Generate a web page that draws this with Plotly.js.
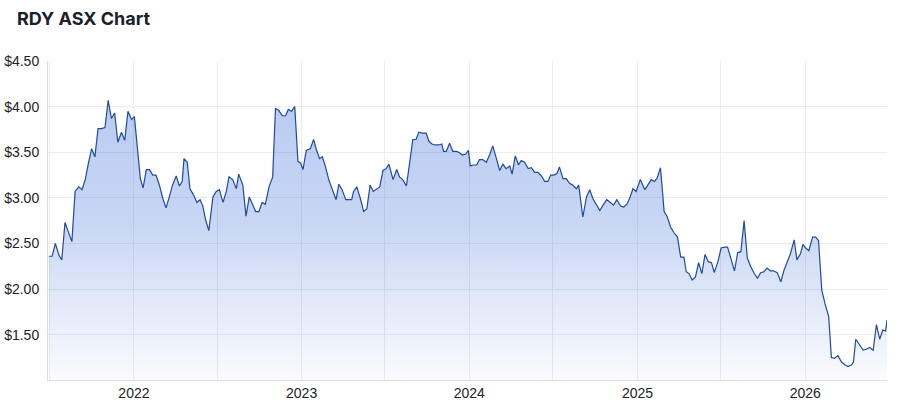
<!DOCTYPE html>
<html>
<head>
<meta charset="utf-8">
<script src="https://cdn.plot.ly/plotly-3.0.1.min.js"></script>
<style>
html, body { margin: 0; padding: 0; background: #ffffff; }
#chart { width: 898px; height: 415px; }
</style>
</head>
<body>
<div id="chart"></div>
<script>
const chartTitle = "RDY ASX Chart";

const dates = [
"2021-06-30","2021-07-07","2021-07-14","2021-07-22","2021-07-28","2021-08-04","2021-08-11","2021-08-19","2021-08-26","2021-09-03",
"2021-09-10","2021-09-17","2021-09-24","2021-10-01","2021-10-08","2021-10-15","2021-10-22","2021-10-30","2021-11-06","2021-11-13",
"2021-11-20","2021-11-27","2021-12-05","2021-12-12","2021-12-19","2021-12-27","2022-01-02","2022-01-08","2022-01-15","2022-01-21",
"2022-01-28","2022-02-04","2022-02-11","2022-02-18","2022-02-26","2022-03-05","2022-03-12","2022-03-19","2022-03-26","2022-04-03",
"2022-04-10","2022-04-16","2022-04-20","2022-04-27","2022-05-03","2022-05-11","2022-05-18","2022-05-25","2022-05-31","2022-06-06",
"2022-06-13","2022-06-22","2022-06-29","2022-07-06","2022-07-14","2022-07-21","2022-07-27","2022-08-04","2022-08-12","2022-08-17",
"2022-08-26","2022-09-02","2022-09-09","2022-09-17","2022-09-23","2022-09-30","2022-10-07","2022-10-14","2022-10-22","2022-10-30",
"2022-11-05","2022-11-12","2022-11-20","2022-11-27","2022-12-03","2022-12-10","2022-12-17","2022-12-24","2022-12-30","2023-01-04",
"2023-01-11","2023-01-20","2023-01-27","2023-02-02","2023-02-09","2023-02-15","2023-02-22","2023-03-01","2023-03-09","2023-03-17",
"2023-03-23","2023-03-30","2023-04-07","2023-04-14","2023-04-20","2023-04-24","2023-05-01","2023-05-09","2023-05-16","2023-05-23",
"2023-05-30","2023-06-06","2023-06-12","2023-06-20","2023-06-27","2023-07-04","2023-07-10","2023-07-19","2023-07-27","2023-08-02",
"2023-08-09","2023-08-17","2023-08-22","2023-08-31","2023-09-07","2023-09-13","2023-09-21","2023-09-29","2023-10-05","2023-10-12",
"2023-10-19","2023-10-27","2023-11-02","2023-11-06","2023-11-12","2023-11-19","2023-11-26","2023-12-04","2023-12-09","2023-12-17",
"2023-12-24","2023-12-30","2024-01-03","2024-01-10","2024-01-17","2024-01-23","2024-01-30","2024-02-07","2024-02-14","2024-02-21",
"2024-02-29","2024-03-07","2024-03-14","2024-03-21","2024-03-29","2024-04-03","2024-04-10","2024-04-17","2024-04-23","2024-04-30",
"2024-05-08","2024-05-15","2024-05-22","2024-05-29","2024-06-06","2024-06-13","2024-06-20","2024-06-26","2024-07-03","2024-07-10",
"2024-07-15","2024-07-23","2024-07-30","2024-08-06","2024-08-13","2024-08-21","2024-08-26","2024-09-04","2024-09-12","2024-09-19",
"2024-09-26","2024-10-03","2024-10-11","2024-10-18","2024-10-26","2024-11-03","2024-11-10","2024-11-17","2024-11-25","2024-12-02",
"2024-12-09","2024-12-16","2024-12-22","2024-12-29","2025-01-07","2025-01-17","2025-01-24","2025-01-31","2025-02-07","2025-02-13",
"2025-02-20","2025-02-28","2025-03-07","2025-03-14","2025-03-21","2025-03-29","2025-04-05","2025-04-12","2025-04-17","2025-04-23",
"2025-04-30","2025-05-07","2025-05-14","2025-05-21","2025-05-28","2025-06-04","2025-06-11","2025-06-17","2025-06-25","2025-07-02",
"2025-07-09","2025-07-16","2025-07-23","2025-07-31","2025-08-07","2025-08-14","2025-08-21","2025-08-28","2025-09-04","2025-09-12",
"2025-09-19","2025-09-26","2025-10-03","2025-10-10","2025-10-17","2025-10-24","2025-11-01","2025-11-09","2025-11-16","2025-11-23",
"2025-11-30","2025-12-08","2025-12-14","2025-12-22","2025-12-27","2026-01-02","2026-01-09","2026-01-17","2026-01-24","2026-01-30",
"2026-02-06","2026-02-13","2026-02-21","2026-02-27","2026-03-06","2026-03-13","2026-03-21","2026-03-28","2026-04-04","2026-04-12",
"2026-04-16","2026-04-21","2026-04-28","2026-05-07","2026-05-14","2026-05-21","2026-05-29","2026-06-05","2026-06-12","2026-06-19",
"2026-06-25","2026-06-28"
];

const prices = [
2.36,2.36,2.50,2.37,2.32,2.73,2.63,2.52,3.07,3.12,
3.09,3.20,3.38,3.54,3.45,3.76,3.76,3.77,4.07,3.87,
3.93,3.61,3.72,3.63,3.95,3.86,3.89,3.60,3.21,3.11,
3.31,3.31,3.25,3.25,3.13,2.99,2.89,3.01,3.14,3.24,
3.13,3.18,3.43,3.39,3.10,3.03,2.95,2.98,2.91,2.76,
2.64,3.01,3.07,3.09,2.95,3.07,3.23,3.20,3.10,3.26,
3.14,2.80,3.01,2.92,2.85,2.85,2.95,2.93,3.12,3.23,
3.98,3.96,3.90,3.90,3.97,3.95,4.00,3.40,3.38,3.31,
3.52,3.54,3.64,3.53,3.43,3.45,3.34,3.20,3.09,2.98,
3.15,3.09,2.98,2.98,2.98,3.07,3.12,2.99,2.85,2.88,
3.14,3.07,3.09,3.12,3.30,3.32,3.37,3.20,3.31,3.23,
3.20,3.13,3.31,3.64,3.64,3.72,3.71,3.71,3.62,3.59,
3.58,3.58,3.59,3.51,3.51,3.60,3.51,3.51,3.50,3.47,
3.48,3.52,3.35,3.36,3.36,3.42,3.42,3.39,3.47,3.57,
3.43,3.30,3.37,3.32,3.35,3.26,3.46,3.36,3.41,3.39,
3.32,3.33,3.28,3.28,3.24,3.18,3.18,3.25,3.25,3.27,
3.34,3.21,3.21,3.16,3.14,3.10,3.14,2.79,3.01,3.09,
2.99,2.93,2.86,2.92,2.98,2.95,2.92,2.98,2.91,2.90,
2.93,3.01,3.10,3.07,3.20,3.09,3.14,3.20,3.18,3.22,
3.33,2.85,2.79,2.68,2.62,2.57,2.35,2.35,2.19,2.17,
2.10,2.13,2.29,2.17,2.38,2.30,2.29,2.18,2.30,2.45,
2.46,2.46,2.34,2.20,2.40,2.41,2.75,2.34,2.25,2.17,
2.12,2.18,2.19,2.23,2.20,2.20,2.18,2.08,2.21,2.30,
2.39,2.54,2.32,2.39,2.49,2.45,2.42,2.57,2.57,2.53,
1.99,1.84,1.70,1.25,1.24,1.27,1.20,1.17,1.15,1.17,
1.20,1.45,1.40,1.33,1.34,1.36,1.33,1.61,1.45,1.55,
1.54,1.66
];

const trace = {
  type: "scatter",
  mode: "lines",
  x: dates,
  y: prices,
  line: { color: "#1f4a9e", width: 1.2 },
  fill: "tozeroy",
  fillgradient: {
    type: "vertical",
    start: 1.0,
    stop: 4.1,
    colorscale: [
      [0, "rgba(20,80,210,0.02)"],
      [0.55, "rgba(20,80,210,0.23)"],
      [1, "rgba(20,80,210,0.30)"]
    ]
  },
  hoverinfo: "skip"
};

const titleFont = "Inter, 'Liberation Sans', Arial, sans-serif";
const tickFontFam = "'Liberation Sans', Arial, Helvetica, sans-serif";

const layout = {
  width: 898,
  height: 415,
  margin: { l: 48, r: 11, t: 61, b: 35 },
  paper_bgcolor: "#ffffff",
  plot_bgcolor: "#ffffff",
  showlegend: false,
  title: {
    text: chartTitle,
    font: { family: titleFont, size: 18, color: "#1a202c", weight: 700 },
    x: 17 / 898,
    xanchor: "left",
    xref: "container",
    y: 1 - 18.5 / 415,
    yanchor: "middle",
    yref: "container"
  },
  xaxis: {
    type: "date",
    range: ["2021-06-28", "2026-06-28"],
    dtick: "M12",
    tick0: "2022-01-01",
    tickformat: "%Y",
    showgrid: true,
    gridcolor: "#ececec",
    gridwidth: 1,
    minor: { dtick: "M6", tick0: "2021-07-01", showgrid: true, gridcolor: "#ececec", gridwidth: 1 },
    showline: true,
    linecolor: "#dddddd",
    linewidth: 1,
    ticks: "",
    zeroline: false,
    tickfont: { family: tickFontFam, size: 14, color: "#222222" },
    fixedrange: true
  },
  yaxis: {
    range: [1.003, 4.5005],
    dtick: 0.5,
    tick0: 1.5,
    tickprefix: "$",
    tickformat: ".2f",
    showgrid: true,
    gridcolor: "#ececec",
    gridwidth: 1,
    showline: true,
    linecolor: "#dddddd",
    linewidth: 1,
    ticks: "",
    ticklabelstandoff: 5,
    zeroline: false,
    tickfont: { family: tickFontFam, size: 14, color: "#222222" },
    fixedrange: true
  }
};

Plotly.newPlot("chart", [trace], layout, { displayModeBar: false, staticPlot: true });
</script>
</body>
</html>
